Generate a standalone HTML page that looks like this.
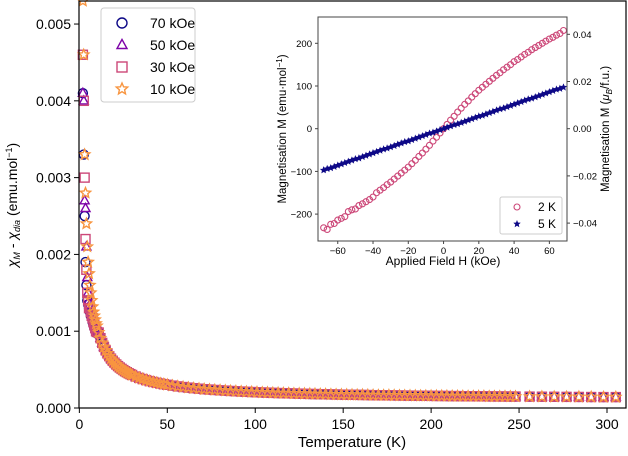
<!DOCTYPE html>
<html><head><meta charset="utf-8"><style>
body{margin:0;background:#fff}
svg{display:block;font-family:"Liberation Sans","DejaVu Sans",sans-serif}
</style></head><body>
<svg id="c" width="628" height="456" viewBox="0 0 628 456" xmlns="http://www.w3.org/2000/svg">
<rect width="628" height="456" fill="#fff"/>
<g id="main"></g>
<g id="inset"></g>
</svg>
<script>
// ---- main chart data ----
const tempsLow = [2,2.5,3,3.5,4,4.5,5,5.5,6,6.5,7,7.5,8,8.5,9,9.5,10];
const tempsHigh = [11,12,13,14,15,16,17,18,19,20,21,22,23,24,25,26,27,28,29,30,32,34,36,38,40,42,44,46,48,50,53,56,59,62,65,68,71,74,77,80,83,86,89,92,95,98,101,104,107,110,113,116,119,122,125,128,131,134,137,140,143,146,149,152,155,158,161,164,167,170,173,176,179,182,185,188,191,194,197,200,203,206,209,212,215,218,221,224,227,230,233,236,239,242,245,248,256,263,270,277,284,291,298,305];
const chiHigh = [0.000983,0.00091,0.000848,0.000796,0.00075,0.00071,0.000675,0.000643,0.000615,0.00059,0.000567,0.000546,0.000527,0.00051,0.000494,0.000479,0.000466,0.000453,0.000441,0.00043,0.00041,0.000392,0.000377,0.000363,0.00035,0.000339,0.000328,0.000319,0.00031,0.000302,0.000291,0.000281,0.000273,0.000265,0.000258,0.000251,0.000245,0.00024,0.000235,0.00023,0.000226,0.000222,0.000218,0.000214,0.000211,0.000208,0.000205,0.000202,0.0002,0.000197,0.000195,0.000193,0.000191,0.000189,0.000187,0.000185,0.000183,0.000182,0.00018,0.000179,0.000177,0.000176,0.000174,0.000173,0.000172,0.000171,0.00017,0.000169,0.000167,0.000166,0.000165,0.000165,0.000164,0.000163,0.000162,0.000161,0.00016,0.000159,0.000159,0.000158,0.000157,0.000157,0.000156,0.000155,0.000155,0.000154,0.000153,0.000153,0.000152,0.000152,0.000151,0.000151,0.00015,0.00015,0.000149,0.000149,0.000148,0.000147,0.000146,0.000145,0.000144,0.000143,0.000142,0.000142];
const chi10Low = [0.0053,0.0046,0.0033,0.0028,0.0024,0.0021,0.0019,0.00175,0.0016,0.0015,0.0014,0.00132,0.00125,0.0012,0.00115,0.0011,0.00107];
const chi30Low = [0.0046,0.0040,0.0030,0.0022,0.0018,0.0015,0.0014,0.0013,0.0013,0.00125,0.0012,0.00117,0.00112,0.00108,0.00104,0.001,0.00099];
const chi50Low = [0.0041,0.0040,0.0027,0.0026,0.0021,0.0017,0.0015,0.0014,0.00135,0.0013,0.00125,0.0012,0.00115,0.0011,0.00106,0.00103,0.001];
const chi70Low = [0.0041,0.0033,0.0025,0.0019,0.0016,0.0014,0.00135,0.0013,0.00125,0.0012,0.00117,0.00112,0.00108,0.00104,0.00101,0.00099,0.00097];
const xTicks = [0,50,100,150,200,250,300];
const yTicks = [0,0.001,0.002,0.003,0.004,0.005];
const yTickLabels = ["0.000","0.001","0.002","0.003","0.004","0.005"];
// ---- inset data ----
const fieldH = [-68,-66,-64,-62,-60,-58,-56,-54,-52,-50,-48,-46,-44,-42,-40,-38,-36,-34,-32,-30,-28,-26,-24,-22,-20,-18,-16,-14,-12,-10,-8,-6,-4,-2,0,2,4,6,8,10,12,14,16,18,20,22,24,26,28,30,32,34,36,38,40,42,44,46,48,50,52,54,56,58,60,62,64,66,68];
const m2K = [-232,-236,-224,-222,-214,-210,-206,-194,-190,-188,-180,-176,-171,-166,-160,-150,-144,-138,-131,-125,-118,-111,-104,-97,-90,-82,-74,-65,-57,-48,-39,-29,-20,-10,0,10,20,29,39,48,57,65,74,82,90,97,104,111,118,125,131,138,144,150,157,162,168,174,179,185,190,195,200,205,210,214,219,223,230];
const m5K = [-97,-94,-92,-89,-86,-83,-80,-77,-74,-71,-69,-66,-63,-60,-57,-54,-51,-48,-46,-43,-40,-37,-34,-31,-29,-26,-23,-20,-17,-14,-11,-9,-6,-3,0,3,6,9,11,14,17,20,23,26,29,31,34,37,40,43,46,48,51,54,57,60,63,66,69,71,74,77,80,83,86,89,92,94,97];
const hTicks = [-60,-40,-20,0,20,40,60];
const mTicks = [-200,-100,0,100,200];
const muTicks = [-0.04,-0.02,0,0.02,0.04];
const muTickLabels = ["−0.04","−0.02","0.00","0.02","0.04"];

const temps = tempsLow.concat(tempsHigh);
const chi10 = chi10Low.concat(chiHigh);
const chi30 = chi30Low.concat(chiHigh);
const chi50 = chi50Low.concat(chiHigh);
const chi70 = chi70Low.concat(chiHigh);

const NS="http://www.w3.org/2000/svg";
function mk(parent,tag,attrs,text){const e=document.createElementNS(NS,tag);for(const k in attrs)e.setAttribute(k,attrs[k]);if(text!==undefined)e.textContent=text;parent.appendChild(e);return e;}
const C70="#0d0887",C50="#7e03a8",C30="#cc4778",C10="#f89540";

const L=79,R=626,T=1,B=408;
const X0=-0.2,X1=310.8,Y0=0,Y1=0.0053;
const sx=v=>L+(v-X0)/(X1-X0)*(R-L);
const sy=v=>B-(v-Y0)/(Y1-Y0)*(B-T);
const main=document.getElementById('main');

function starPts(cx,cy,r){let p=[];for(let i=0;i<10;i++){const a=-Math.PI/2+i*Math.PI/5;const rr=i%2?r*0.45:r;p.push((cx+rr*Math.cos(a)).toFixed(1)+','+(cy+rr*Math.sin(a)).toFixed(1));}return p.join(' ');}
function marker(g,kind,cx,cy,col,s){
  let e;
  if(kind==='circle')e=mk(g,'circle',{cx,cy,r:s,fill:'none',stroke:col,'stroke-width':1.4});
  else if(kind==='tri')e=mk(g,'polygon',{points:`${cx},${cy-s*1.1} ${cx+s},${cy+s*0.7} ${cx-s},${cy+s*0.7}`,fill:'none',stroke:col,'stroke-width':1.4});
  else if(kind==='square')e=mk(g,'rect',{x:cx-s,y:cy-s,width:2*s,height:2*s,fill:'none',stroke:col,'stroke-width':1.4});
  else if(kind==='star')e=mk(g,'polygon',{points:starPts(cx,cy,s*1.2),fill:'none',stroke:col,'stroke-width':1.4});
  else if(kind==='fstar')e=mk(g,'polygon',{points:starPts(cx,cy,s),fill:col,stroke:col,'stroke-width':0.6});
  return e;
}
const series=[["70-kOe",chi70,'circle',C70],["50-kOe",chi50,'tri',C50],["30-kOe",chi30,'square',C30],["10-kOe",chi10,'star',C10]];
series.forEach(([nm,vals,kind,col])=>{
  const g=mk(main,'g',{});
  
  
  vals.forEach((v,i)=>{
    const e=marker(g,kind,sx(temps[i]),sy(v),col,4.5);
    
    
  });
});
const fr=mk(main,'rect',{x:L,y:T,width:R-L,height:B-T,fill:'none',stroke:'#000','stroke-width':1.2});


xTicks.forEach(t=>{
  mk(main,'line',{x1:sx(t),x2:sx(t),y1:B,y2:B+5,stroke:'#000'});
  const tx=mk(main,'text',{x:sx(t),y:B+21,'font-size':14,'text-anchor':'middle'},String(t));
  
  
});
yTicks.forEach((t,i)=>{
  mk(main,'line',{x1:L-5,x2:L,y1:sy(t),y2:sy(t),stroke:'#000'});
  const tx=mk(main,'text',{x:L-8,y:sy(t)+5,'font-size':14,'text-anchor':'end'},yTickLabels[i]);
  
  
});
const xl=mk(main,'text',{x:352,y:447,'font-size':15,'text-anchor':'middle'},'Temperature (K)');


const yl=mk(main,'text',{x:0,y:0,'font-size':14,'text-anchor':'middle',transform:'translate(17,205) rotate(-90)'});


yl.innerHTML='<tspan font-style="italic">χ</tspan><tspan font-size="9" dy="3" font-style="italic">M</tspan><tspan dy="-3"> - </tspan><tspan font-style="italic">χ</tspan><tspan font-size="9" dy="3" font-style="italic">dia</tspan><tspan dy="-3"> (emu.mol</tspan><tspan font-size="9" dy="-5">−1</tspan><tspan dy="5">)</tspan>';
const lg=mk(main,'g',{});


mk(lg,'rect',{x:101,y:8,width:94,height:94,rx:3,fill:'#fff',stroke:'#ccc','stroke-width':1});
[["70 kOe",'circle',C70],["50 kOe",'tri',C50],["30 kOe",'square',C30],["10 kOe",'star',C10]].forEach(([lab,kind,col],i)=>{
  const y=23+i*22;
  const e=mk(lg,'g',{});
  
  
  marker(e,kind,122,y,col,5);
  mk(e,'text',{x:150,y:y+5,'font-size':14},lab);
});

// inset
const iL=318,iR=567,iT=17,iB=241;
const hx=v=>iL+(v+71.2)/(70+71.2)*(iR-iL);
const my=v=>128.7-v*0.427;
const muy=v=>128.7-v/0.02*47.2;
const ins=document.getElementById('inset');
mk(ins,'rect',{x:iL,y:iT,width:iR-iL,height:iB-iT,fill:'#fff'});
const g2=mk(ins,'g',{});


m2K.forEach((v,i)=>{
  const e=mk(g2,'circle',{cx:hx(fieldH[i]),cy:my(v),r:3,fill:'none',stroke:C30,'stroke-width':1.1});
  
  
});
const g5=mk(ins,'g',{});


m5K.forEach((v,i)=>{
  const e=marker(g5,'fstar',hx(fieldH[i]),my(v),C70,3.2);
  
  
});
mk(ins,'rect',{x:iL,y:iT,width:iR-iL,height:iB-iT,fill:'none',stroke:'#444','stroke-width':1});
hTicks.forEach(t=>{
  mk(ins,'line',{x1:hx(t),x2:hx(t),y1:iB,y2:iB+3,stroke:'#444'});
  const tx=mk(ins,'text',{x:hx(t),y:iB+13,'font-size':9.5,'text-anchor':'middle'},t<0?'−'+(-t):String(t));
  
  
});
mTicks.forEach(t=>{
  mk(ins,'line',{x1:iL-3,x2:iL,y1:my(t),y2:my(t),stroke:'#444'});
  const tx=mk(ins,'text',{x:iL-6,y:my(t)+3.5,'font-size':9.5,'text-anchor':'end'},t<0?'−'+(-t):String(t));
  
  
});
muTicks.forEach((t,i)=>{
  mk(ins,'line',{x1:iR,x2:iR+3,y1:muy(t),y2:muy(t),stroke:'#444'});
  const tx=mk(ins,'text',{x:iR+6,y:muy(t)+3.5,'font-size':9.5},muTickLabels[i]);
  
  
});
const ixl=mk(ins,'text',{x:443,y:265,'font-size':12,'text-anchor':'middle'},'Applied Field H (kOe)');


const iyl=mk(ins,'text',{x:0,y:0,'font-size':11.5,'text-anchor':'middle',transform:'translate(286,129) rotate(-90)'});


iyl.innerHTML='Magnetisation M (emu·mol<tspan font-size="8" dy="-4">−1</tspan><tspan dy="4">)</tspan>';
const iyr=mk(ins,'text',{x:0,y:0,'font-size':11.5,'text-anchor':'middle',transform:'translate(609,129) rotate(-90)'});


iyr.innerHTML='Magnetisation M (<tspan font-style="italic">μ</tspan><tspan font-size="8" dy="3" font-style="italic">B</tspan><tspan dy="-3">/f.u.)</tspan>';
const ilg=mk(ins,'g',{});


mk(ilg,'rect',{x:500,y:197,width:62,height:37,rx:2,fill:'#fff',stroke:'#ccc'});
const e1=mk(ilg,'g',{});


mk(e1,'circle',{cx:517,cy:207,r:3,fill:'none',stroke:C30,'stroke-width':1.1});
mk(e1,'text',{x:538,y:211,'font-size':12},'2 K');
const e2=mk(ilg,'g',{});


marker(e2,'fstar',517,224,C70,3.2);
mk(e2,'text',{x:538,y:228,'font-size':12},'5 K');
</script>
</body></html>
